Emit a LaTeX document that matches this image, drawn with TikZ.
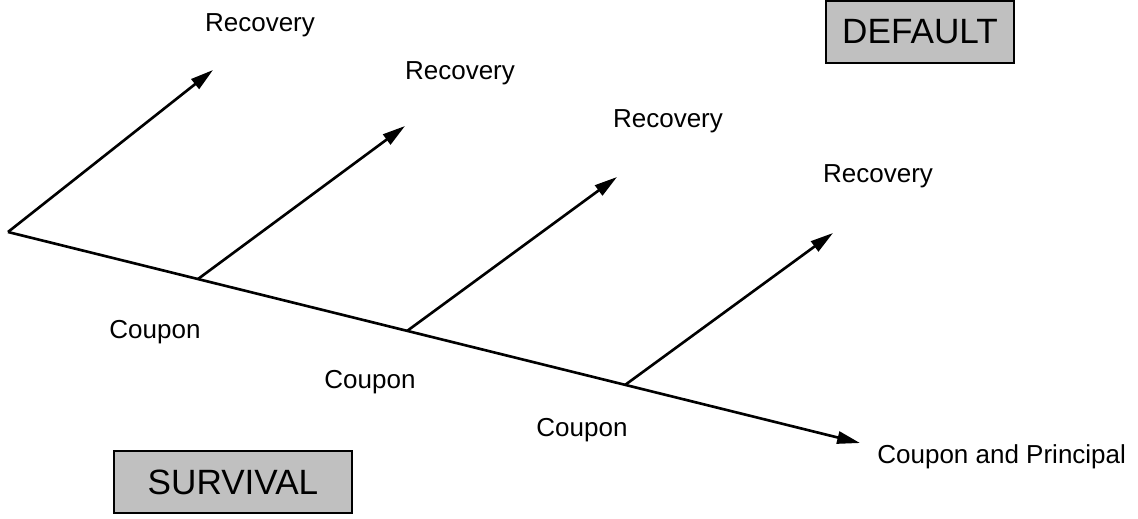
\documentclass[tikz,border=0pt]{standalone}
\usepackage{fontspec}
\setmainfont{Liberation Sans}
\usetikzlibrary{arrows.meta}
\definecolor{boxgray}{RGB}{192,192,192}

\begin{document}
\begin{tikzpicture}[x=0.02cm, y=-0.02cm]

\tikzstyle{label}=[inner sep=0pt, font=\fontsize{14.8}{17}\selectfont]
\tikzstyle{state}=[rectangle, draw, fill=boxgray, line width=0.8pt, minimum height=1.24cm, inner sep=0pt, font=\fontsize{20}{24}\selectfont]
\tikzstyle{edge1}=[line width=1.5pt, -{Triangle[length=13pt, width=7pt]}]

\useasboundingbox (0,0) rectangle (1138,518);

\coordinate (start) at (8, 232);
\coordinate (split1) at (198, 279);
\coordinate (split2) at (407, 331);
\coordinate (split3) at (625, 385);
\coordinate (maturity) at (860, 443);

\coordinate (tip0) at (213, 70);
\coordinate (tip1) at (405, 126);
\coordinate (tip2) at (617, 177);
\coordinate (tip3) at (833, 233);

\node[label] (recovery0) at (260, 25) {Recovery};
\node[label] (recovery1) at (460, 73) {Recovery};
\node[label] (recovery2) at (668, 121) {Recovery};
\node[label] (recovery3) at (878, 176) {Recovery};

\node[label] (coupon1) at (155, 332) {Coupon};
\node[label] (coupon2) at (370, 382) {Coupon};
\node[label] (coupon3) at (582, 430) {Coupon};
\node[label, anchor=west] (final) at (877, 457) {Coupon and Principal};

\node[state, minimum width=3.76cm] (default) at (920, 32) {DEFAULT};
\node[state, minimum width=4.76cm] (survival) at (233, 482) {SURVIVAL};

\draw[edge1] (start) -- (tip0);
\draw[edge1] (start) -- (maturity);

\draw[edge1] (split1) -- (tip1);
\draw[edge1] (split2) -- (tip2);
\draw[edge1] (split3) -- (tip3);

\end{tikzpicture}
\end{document}
